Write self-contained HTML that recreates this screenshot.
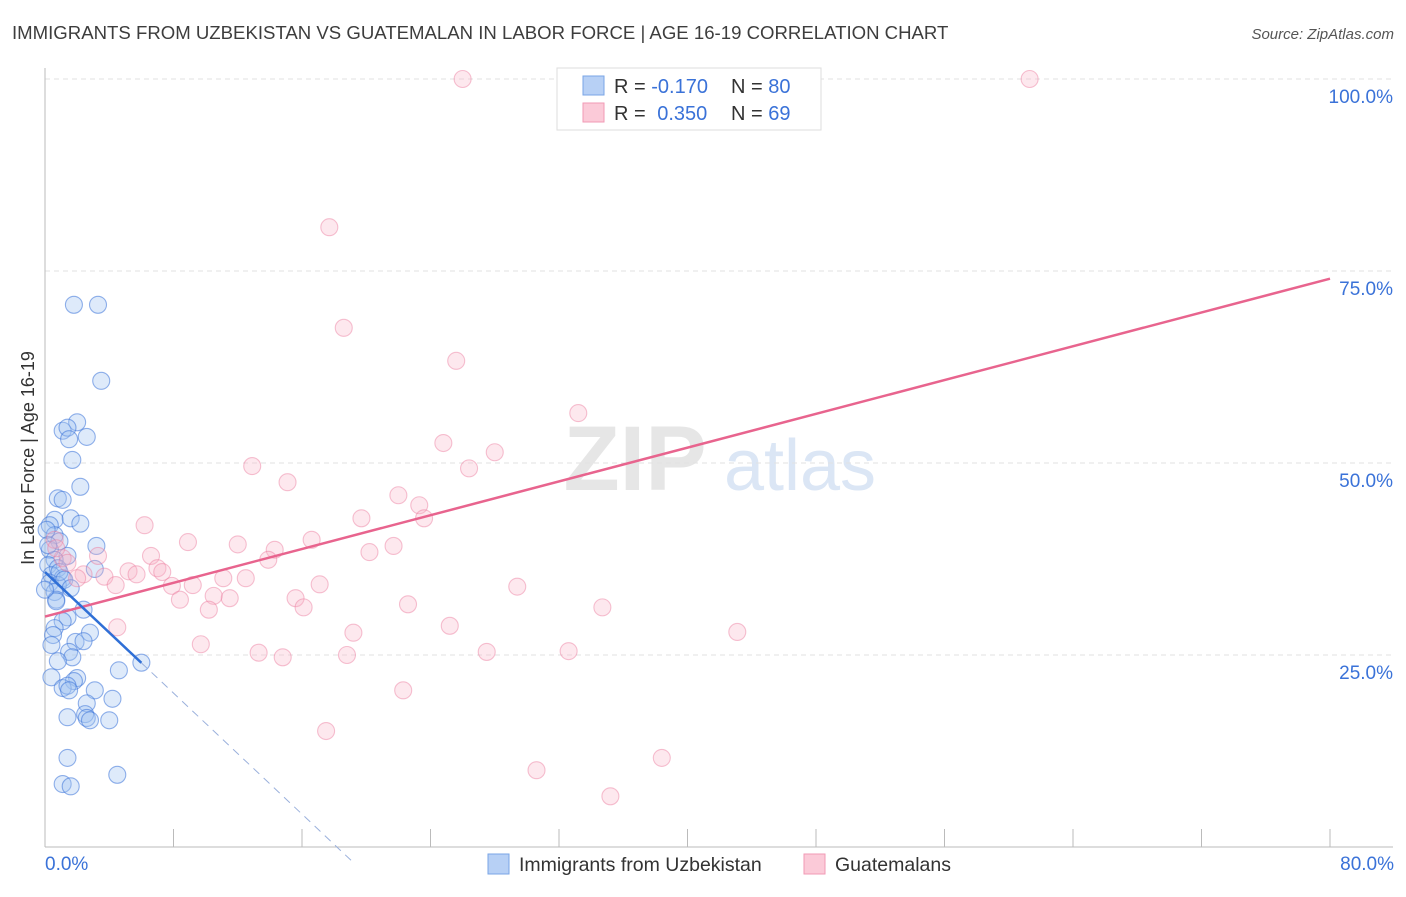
<!DOCTYPE html>
<html><head><meta charset="utf-8"><style>
body{margin:0;background:#fff;font-family:"Liberation Sans",sans-serif;}
svg text{font-family:"Liberation Sans",sans-serif;}
</style></head><body>
<svg id="chart" width="1406" height="892" xmlns="http://www.w3.org/2000/svg">
<text x="12" y="39" font-size="18.6" fill="#3d3d3d">IMMIGRANTS FROM UZBEKISTAN VS GUATEMALAN IN LABOR FORCE | AGE 16-19 CORRELATION CHART</text>
<text x="1394" y="39" font-size="15" fill="#555" font-style="italic" text-anchor="end">Source: ZipAtlas.com</text>
<g>
<text x="635" y="490" font-size="92" fill="#e6e6e6" font-family="Liberation Serif" text-anchor="middle" font-weight="bold">ZIP</text>
<text x="800" y="490" font-size="72" fill="#dbe6f5" text-anchor="middle">atlas</text>
</g>
<g id="grid"></g>
<g id="axes"></g>
<g id="marks"></g>
<text transform="translate(34,458) rotate(-90)" font-size="18" fill="#333" text-anchor="middle">In Labor Force | Age 16-19</text>
<text x="45" y="870" font-size="19" fill="#3a72d8">0.0%</text>
<text x="1394" y="870" font-size="19" fill="#3a72d8" text-anchor="end">80.0%</text>
<g id="marks-legend-cover"></g>
<g>
<rect x="557" y="68" width="264" height="62" fill="#fff" stroke="#ddd"/>
<rect x="583" y="76" width="21" height="19" fill="#b7d0f5" stroke="#7aa5e6"/>
<rect x="583" y="103" width="21" height="19" fill="#fbcad8" stroke="#f29ab5"/>
<text x="614" y="93" font-size="20" fill="#333">R = <tspan fill="#3a72d8">-0.170</tspan></text>
<text x="731" y="93" font-size="20" fill="#333">N = <tspan fill="#3a72d8">80</tspan></text>
<text x="614" y="120" font-size="20" fill="#333">R = <tspan fill="#3a72d8" dx="6">0.350</tspan></text>
<text x="731" y="120" font-size="20" fill="#333">N = <tspan fill="#3a72d8">69</tspan></text>
</g>
<g>
<rect x="488" y="854" width="21" height="20" fill="#b7d0f5" stroke="#7aa5e6"/>
<text x="519" y="871" font-size="19.5" fill="#333">Immigrants from Uzbekistan</text>
<rect x="804" y="854" width="21" height="20" fill="#fbcad8" stroke="#f29ab5"/>
<text x="835" y="871" font-size="19.5" fill="#333">Guatemalans</text>
</g>
</svg>
<script>
const yTicks=[25,50,75,100];
const yTickLabels=["25.0%","50.0%","75.0%","100.0%"];
const xTicks=[0,8,16,24,32,40,48,56,64,72,80];
const blueX=[1.8,3.3,3.5,2.0,1.1,1.4,2.6,1.5,1.7,2.2,0.8,1.1,0.6,1.6,2.2,0.3,0.6,3.2,0.9,0.3,1.4,0.6,0.2,0.8,3.1,0.4,1.1,0.3,0.8,0.6,0.7,2.4,1.4,1.1,0.6,2.8,0.5,1.9,2.4,0.4,1.5,1.7,0.8,6.0,4.6,0.4,2.0,1.8,1.1,1.4,3.1,1.5,4.2,2.6,1.4,2.5,2.6,2.8,4.0,1.4,4.5,1.1,1.6,0.1,0.2,0.9,1.2,1.6,0.0,0.7];
const blueY=[70.6,70.6,60.7,55.3,54.2,54.6,53.4,53.1,50.4,46.9,45.4,45.2,42.6,42.8,42.1,41.9,40.6,39.2,39.8,38.7,37.9,37.4,36.7,36.3,36.2,35.4,35.0,34.4,34.1,33.2,32.2,30.9,29.9,29.4,28.5,27.9,27.6,26.7,26.8,26.3,25.4,24.7,24.2,24.0,23.0,22.1,22.0,21.6,20.7,21.0,20.4,20.4,19.3,18.7,16.9,17.3,16.8,16.5,16.5,11.6,9.4,8.2,7.9,41.3,39.3,35.8,34.8,33.7,33.5,32.0];
const pinkX=[26.0,61.3,36.6,17.7,18.6,25.6,33.2,24.8,28.0,26.4,12.9,15.1,22.0,23.3,23.6,19.7,6.2,8.9,12.0,16.6,21.7,20.2,14.3,13.9,6.6,3.3,1.1,5.2,7.0,7.3,5.7,2.4,2.0,3.7,11.1,12.5,4.4,17.1,7.9,9.2,29.4,8.4,11.5,10.5,15.6,16.1,22.6,10.2,34.7,25.2,19.2,43.1,4.5,9.7,13.3,14.8,18.8,27.5,32.6,22.3,17.5,38.4,30.6,35.2,0.6,0.7,1.4,46.3];
const pinkY=[100,100,100,80.7,67.6,63.3,56.5,52.6,51.4,49.3,49.6,47.5,45.8,44.5,42.8,42.8,41.9,39.7,39.4,40.0,39.2,38.4,38.7,37.4,37.9,37.9,37.6,35.9,36.3,35.8,35.5,35.5,35.0,35.2,35.0,35.0,34.1,34.2,34.0,34.1,33.9,32.2,32.4,32.7,32.4,31.2,31.6,30.9,31.2,28.8,27.9,28.0,28.6,26.4,25.3,24.7,25.0,25.4,25.5,20.4,15.1,11.6,10.0,6.6,40.0,38.9,37.0,100];
const pinkTrend=[30.0,74.0];
const blueTrend=[35.8,-1.97];
const blueSolidEnd=6.0;
const blueDashEnd=19.3;

const NS="http://www.w3.org/2000/svg";
const X0=45,X1=1330,Y0=847,Y100=79;
function sx(v){return X0+v/80*(X1-X0);}
function sy(v){return Y0-v/100*(Y0-Y100);}
function mk(t,a,p){const e=document.createElementNS(NS,t);for(const k in a)e.setAttribute(k,a[k]);p.appendChild(e);return e;}
const grid=document.getElementById('grid'),axes=document.getElementById('axes'),marks=document.getElementById('marks');
yTicks.forEach((t,i)=>{
 const l=mk('line',{x1:X0,x2:1393,y1:sy(t),y2:sy(t),stroke:'#e2e2e2','stroke-dasharray':'5,4'},grid);
 
 
 const tx=mk('text',{x:1393,y:sy(t)+24,'font-size':19,fill:'#3a72d8','text-anchor':'end'},grid);
 tx.textContent=yTickLabels[i];
 
 
});
const ya=mk('line',{x1:X0,x2:X0,y1:68,y2:Y0,stroke:'#bbb'},axes);


const xa=mk('line',{x1:X0,x2:1393,y1:Y0,y2:Y0,stroke:'#bbb'},axes);


xTicks.forEach(t=>{
 const l=mk('line',{x1:sx(t),x2:sx(t),y1:829,y2:Y0,stroke:'#bbb'},axes);
 
 
});
blueX.forEach((v,i)=>{
 const c=mk('circle',{cx:sx(v),cy:sy(blueY[i]),r:8.5,fill:'rgba(160,194,242,0.35)',stroke:'rgba(58,114,216,0.55)','stroke-width':1.1},marks);
 
 
});
pinkX.forEach((v,i)=>{
 const c=mk('circle',{cx:sx(v),cy:sy(pinkY[i]),r:8.5,fill:'rgba(248,180,200,0.3)',stroke:'rgba(234,120,155,0.45)','stroke-width':1.1},marks);
 
 
});
const pl=mk('line',{x1:sx(0),y1:sy(pinkTrend[0]),x2:sx(80),y2:sy(pinkTrend[1]),stroke:'#e8648e','stroke-width':2.5},marks);


const bf=x=>blueTrend[0]+blueTrend[1]*x;
const bl=mk('line',{x1:sx(0),y1:sy(bf(0)),x2:sx(blueSolidEnd),y2:sy(bf(blueSolidEnd)),stroke:'#2f6fd6','stroke-width':2.5},marks);


const bd=mk('line',{x1:sx(blueSolidEnd),y1:sy(bf(blueSolidEnd)),x2:sx(blueDashEnd),y2:sy(bf(blueDashEnd)),stroke:'#9ab0dc','stroke-width':1,'stroke-dasharray':'8,6'},marks);


</script>
</body></html>
